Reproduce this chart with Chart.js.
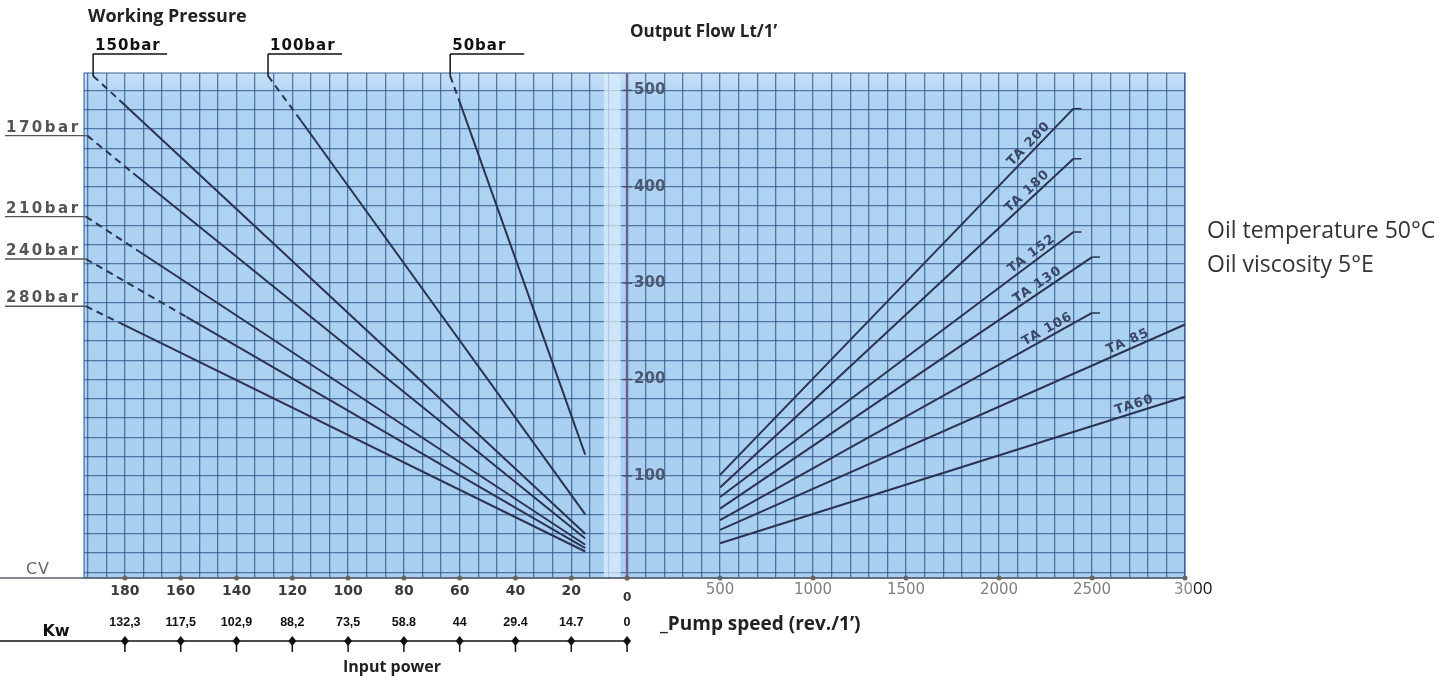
<!DOCTYPE html>
<html><head><meta charset="utf-8">
<script src="https://cdn.jsdelivr.net/npm/chart.js@4.4.1/dist/chart.umd.min.js"></script>
<style>html,body{margin:0;padding:0;background:#fff;}#wrap{position:relative;width:1456px;height:682px;}</style>
</head><body><div id="wrap"><canvas id="c" width="1456" height="682" style="width:1456px;height:682px"></canvas></div>
<script>
// ---- data ----
const pressureNames = ['150bar','100bar','50bar','170bar','210bar','240bar','280bar'];
const pressureStartCV = [191.4,128.7,63.4,193.5,194,194,194];
const pressureStartFlow = [515,515,515,453,369,325,276];
const pressureDashCV = [182,117,60,177,174.5,158,182];
const pressureDashFlow = [490,469,488,414,332,265,259];
const pressureEndCV = [15,15,15,15,15,15,15];
const pressureEndFlow = [40,60,122,35,28.5,25,21.5];

const taModels = ['TA 200','TA 180','TA 152','TA 130','TA 106','TA 85','TA60'];
const taStartRpm = [500,500,500,500,500,500,500];
const taStartFlow = [101,88,78,66,54,44,30];
const taEndRpm = [2400,2400,2400,2500,2500,3000,3000];
const taEndFlow = [481,429,353,327,269,257,182];
const taLabelRpm = [2190,2180,2200,2230,2280,2710,2740];

const cvTicks = [180,160,140,120,100,80,60,40,20,0];
const kwLabels = ['132,3','117,5','102,9','88,2','73,5','58.8','44','29.4','14.7','0'];
const rpmTicks = [0,500,1000,1500,2000,2500,3000];
const flowTicks = [100,200,300,400,500];

// ---- styles ----
const LINE = '#2b3350';
const GRID = 'rgba(45,80,135,0.72)';

const pressureSets = pressureNames.map((n,i)=>({
  label:n, xAxisID:'xcv', yAxisID:'y',
  data:[{x:pressureStartCV[i],y:pressureStartFlow[i]},{x:pressureDashCV[i],y:pressureDashFlow[i]},{x:pressureEndCV[i],y:pressureEndFlow[i]}],
  borderColor:LINE, borderWidth:2, pointRadius:0, showLine:true, clip:false,
  segment:{borderDash: c => c.p0DataIndex===0 ? [7,5] : []}
}));
const taSets = taModels.map((n,i)=>({
  label:n, xAxisID:'x', yAxisID:'y',
  data:[{x:taStartRpm[i],y:taStartFlow[i]},{x:taEndRpm[i],y:taEndFlow[i]}],
  borderColor:LINE, borderWidth:2, pointRadius:0, showLine:true, clip:false
}));

function T(ctx,s,x,y,font,color,align,base,ls){
  ctx.save(); ctx.font=font; ctx.fillStyle=color; ctx.textAlign=align||'center'; ctx.textBaseline=base||'middle';
  if(ls!==undefined) ctx.letterSpacing=ls;
  ctx.fillText(s,x,y); ctx.restore();
}
function L(ctx,x1,y1,x2,y2,color,w){ctx.save();ctx.strokeStyle=color;ctx.lineWidth=w;ctx.beginPath();ctx.moveTo(x1,y1);ctx.lineTo(x2,y2);ctx.stroke();ctx.restore();}

const deco = {
  id:'deco',
  beforeDraw(chart){
    const {ctx, chartArea:a} = chart;
    ctx.save();
    ctx.fillStyle='#fff'; ctx.fillRect(0,0,chart.width,chart.height);
    const g = ctx.createLinearGradient(0,a.top,0,a.bottom);
    g.addColorStop(0,'#c6e0f7'); g.addColorStop(0.05,'#aed3f2'); g.addColorStop(1,'#a9cff0');
    ctx.fillStyle=g; ctx.fillRect(a.left,a.top,a.right-a.left,a.bottom-a.top);
    ctx.restore();
  },
  beforeDatasetsDraw(chart){
    const {ctx, chartArea:a, scales} = chart; const x = scales.x;
    ctx.save();
    const s0 = x.getPixelForValue(-125), s1 = x.getPixelForValue(-35);
    ctx.fillStyle='rgba(220,238,252,0.7)'; ctx.fillRect(s0,a.top,s1-s0,a.bottom-a.top);
    ctx.strokeStyle=GRID; ctx.lineWidth=1.3; ctx.strokeRect(a.left,a.top,a.right-a.left,a.bottom-a.top);
    const x0 = x.getPixelForValue(0);
    L(ctx,x0,a.top,x0,a.bottom,'#6b6391',2.5);
    ctx.restore();
  },
  afterDraw(chart){
    const {ctx, chartArea:a, scales} = chart; const x=scales.x, xc=scales.xcv, y=scales.y;
    const x0 = x.getPixelForValue(0);
    // baseline
    L(ctx,0,a.bottom,a.right,a.bottom,'#5a5f6a',1.5);
    T(ctx,'CV',38,570,'16px "DejaVu Sans"','#666','center','middle','1px');
    // CV ticks
    cvTicks.forEach(v=>{
      const px = xc.getPixelForValue(v);
      ctx.save();ctx.fillStyle='#666';ctx.beginPath();ctx.arc(px,a.bottom,2.5,0,Math.PI*2);ctx.fill();ctx.restore();
      if(v===0) T(ctx,'0',px,598,'bold 12px "DejaVu Sans"','#333');
      else T(ctx,String(v),px,591,'bold 14px "DejaVu Sans"','#3a3a3a');
    });
    rpmTicks.forEach(v=>{
      const px = x.getPixelForValue(v);
      ctx.save();ctx.fillStyle='#666';ctx.beginPath();ctx.arc(px,a.bottom,2.5,0,Math.PI*2);ctx.fill();ctx.restore();
      if(v===0) return;
      if(v===3000){
        T(ctx,'30',px+8,590,'15px "DejaVu Sans"','#8a8a8a','right');
        T(ctx,'00',px+8,589,'17px "Open Sans"','#111','left');
      } else T(ctx,String(v),px,590,'15px "DejaVu Sans"','#808080');
    });
    // Kw row
    const ky = 641;
    L(ctx,0,ky,x0,ky,'#111',1.5);
    T(ctx,'Kw',56,636,'bold 16px "DejaVu Sans"','#111','center','alphabetic');
    cvTicks.forEach((v,i)=>{
      const px = xc.getPixelForValue(v);
      ctx.save();ctx.fillStyle='#111';ctx.beginPath();
      ctx.moveTo(px,ky-5);ctx.lineTo(px+4,ky);ctx.lineTo(px,ky+5);ctx.lineTo(px-4,ky);ctx.closePath();ctx.fill();ctx.restore();
      L(ctx,px,ky,px,ky+11,'#111',1.5);
      T(ctx,kwLabels[i],px,623,'bold 12.5px "Liberation Sans"','#111');
    });
    T(ctx,'Input power',392,667,'bold 16px "Open Sans"','#222');
    T(ctx,'_Pump speed (rev./1\u2019)',660,625,'bold 19px "Open Sans"','#222','left');
    // titles
    T(ctx,'Working Pressure',88,17,'bold 18px "Open Sans"','#222','left');
    T(ctx,'Output Flow Lt/1\u2019',630,32,'bold 17px "Open Sans"','#222','left');
    T(ctx,'Oil temperature 50\u00b0C',1207,231,'23px "Open Sans"','#333','left');
    T(ctx,'Oil viscosity 5\u00b0E',1207,265,'23px "Open Sans"','#333','left');
    // flow axis labels
    flowTicks.forEach(v=>{
      const py = y.getPixelForValue(v);
      L(ctx,x0-4,py,x0+5,py,'#4a5470',1.5);
      T(ctx,String(v),x0+7,py,'bold 15px "DejaVu Sans"','#4f5872','left');
    });
    // pressure labels
    pressureNames.forEach((n,i)=>{
      const px = xc.getPixelForValue(pressureStartCV[i]);
      const py = y.getPixelForValue(pressureStartFlow[i]);
      if(i<3){
        T(ctx,n,px+2,50,'bold 15px "DejaVu Sans"','#111','left','alphabetic','1px');
        L(ctx,px,54,px+74,54,'#111',1.5);
        L(ctx,px,54,px,py,'#111',1.5);
      } else {
        T(ctx,n,6,py-4,'bold 15px "DejaVu Sans"','#555','left','alphabetic','2.5px');
        L(ctx,5,py,px,py,'#555',1.3);
      }
    });
    // TA labels
    taModels.forEach((n,i)=>{
      const p1x = x.getPixelForValue(taStartRpm[i]), p1y = y.getPixelForValue(taStartFlow[i]);
      const p2x = x.getPixelForValue(taEndRpm[i]), p2y = y.getPixelForValue(taEndFlow[i]);
      const t = (taLabelRpm[i]-taStartRpm[i])/(taEndRpm[i]-taStartRpm[i]);
      const lx = p1x+(p2x-p1x)*t, ly = p1y+(p2y-p1y)*t;
      const ang = Math.atan2(p2y-p1y,p2x-p1x);
      ctx.save(); ctx.translate(lx,ly); ctx.rotate(ang);
      ctx.font='bold 13px "DejaVu Sans"'; ctx.letterSpacing='1px'; ctx.fillStyle='#3b4766'; ctx.textAlign='center'; ctx.textBaseline='bottom';
      ctx.fillText(n,0,-1); ctx.restore();
      if(taEndRpm[i]<3000) L(ctx,p2x,p2y,p2x+8,p2y,LINE,1.5);
    });
  }
};

const gridX = [], gridY = [];
for(let v=-2900; v<=3000; v+=100) gridX.push({value:v});
for(let v=0; v<=500; v+=20) gridY.push({value:v});

new Chart(document.getElementById('c'),{
  type:'scatter',
  data:{datasets:[...pressureSets,...taSets]},
  options:{
    responsive:false, animation:false, events:[],
    layout:{padding:{left:84,right:271,top:73,bottom:104}},
    plugins:{legend:{display:false},tooltip:{enabled:false}},
    scales:{
      x:{type:'linear',position:'bottom',min:-2920,max:3000,
        ticks:{display:false},border:{display:false},
        grid:{color:GRID,lineWidth:1.3,drawTicks:false},
        afterBuildTicks:s=>{s.ticks=gridX.map(t=>({value:t.value}));}},
      xcv:{type:'linear',position:'bottom',min:-200,max:194.67,reverse:true,
        ticks:{display:false},border:{display:false},grid:{display:false,drawTicks:false}},
      y:{type:'linear',position:'left',min:-6,max:518,
        ticks:{display:false},border:{display:false},
        grid:{color:GRID,lineWidth:1.3,drawTicks:false},
        afterBuildTicks:s=>{s.ticks=gridY.map(t=>({value:t.value}));}}
    }
  },
  plugins:[deco]
});
</script></body></html>
